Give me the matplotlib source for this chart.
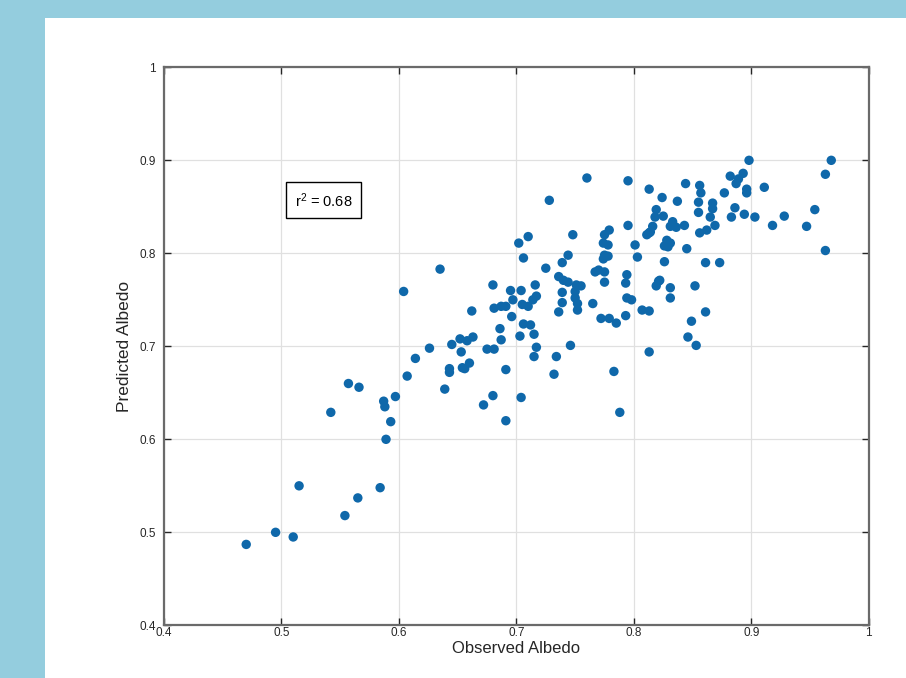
import numpy as np
import matplotlib.pyplot as plt
from matplotlib.patches import Rectangle

plt.rcParams["font.family"] = ["Liberation Sans", "DejaVu Sans"]

# Observed vs predicted albedo
observed = [
    0.470, 0.495, 0.510, 0.515, 0.554, 0.565, 0.584, 0.589, 0.593, 0.542,
    0.587, 0.588, 0.597, 0.557, 0.566, 0.607, 0.614, 0.626, 0.604, 0.635,
    0.639, 0.643, 0.643, 0.645, 0.652, 0.653, 0.658, 0.663, 0.654, 0.656,
    0.660, 0.662, 0.672, 0.680, 0.691, 0.704, 0.691, 0.675, 0.681, 0.687,
    0.686, 0.703, 0.715, 0.717, 0.715, 0.706, 0.712, 0.696, 0.681, 0.687,
    0.691, 0.680, 0.695, 0.704, 0.697, 0.705, 0.710, 0.714, 0.717, 0.716,
    0.725, 0.706, 0.702, 0.710, 0.728, 0.739, 0.748, 0.760, 0.744, 0.736,
    0.740, 0.744, 0.751, 0.755, 0.739, 0.750, 0.739, 0.750, 0.752, 0.752,
    0.736, 0.765, 0.767, 0.770, 0.775, 0.775, 0.779, 0.775, 0.774, 0.778,
    0.775, 0.778, 0.774, 0.795, 0.801, 0.803, 0.794, 0.793, 0.794, 0.798,
    0.807, 0.813, 0.772, 0.779, 0.785, 0.793, 0.746, 0.813, 0.734, 0.732,
    0.783, 0.788, 0.795, 0.813, 0.824, 0.816, 0.813, 0.811, 0.814, 0.819,
    0.818, 0.825, 0.828, 0.829, 0.826, 0.831, 0.833, 0.831, 0.836, 0.843,
    0.845, 0.826, 0.821, 0.822, 0.819, 0.831, 0.831, 0.852, 0.861, 0.873,
    0.861, 0.849, 0.846, 0.853, 0.837, 0.844, 0.856, 0.857, 0.855, 0.855,
    0.867, 0.867, 0.865, 0.869, 0.862, 0.856, 0.877, 0.882, 0.893, 0.889,
    0.887, 0.896, 0.896, 0.898, 0.911, 0.886, 0.883, 0.894, 0.903, 0.918,
    0.928, 0.947, 0.954, 0.963, 0.963, 0.968,
]
predicted = [
    0.487, 0.500, 0.495, 0.550, 0.518, 0.537, 0.548, 0.600, 0.619, 0.629,
    0.641, 0.635, 0.646, 0.660, 0.656, 0.668, 0.687, 0.698, 0.759, 0.783,
    0.654, 0.676, 0.672, 0.702, 0.708, 0.694, 0.706, 0.710, 0.677, 0.676,
    0.682, 0.738, 0.637, 0.647, 0.620, 0.645, 0.675, 0.697, 0.697, 0.707,
    0.719, 0.711, 0.713, 0.699, 0.689, 0.724, 0.723, 0.732, 0.741, 0.743,
    0.743, 0.766, 0.760, 0.760, 0.750, 0.745, 0.743, 0.750, 0.754, 0.766,
    0.784, 0.795, 0.811, 0.818, 0.857, 0.790, 0.820, 0.881, 0.798, 0.775,
    0.771, 0.769, 0.766, 0.765, 0.758, 0.759, 0.747, 0.752, 0.746, 0.739,
    0.737, 0.746, 0.780, 0.782, 0.780, 0.769, 0.825, 0.820, 0.811, 0.809,
    0.798, 0.797, 0.794, 0.830, 0.809, 0.796, 0.777, 0.768, 0.752, 0.750,
    0.739, 0.738, 0.730, 0.730, 0.725, 0.733, 0.701, 0.694, 0.689, 0.670,
    0.673, 0.629, 0.878, 0.869, 0.860, 0.829, 0.822, 0.820, 0.823, 0.847,
    0.839, 0.840, 0.814, 0.807, 0.808, 0.811, 0.834, 0.829, 0.828, 0.830,
    0.805, 0.791, 0.770, 0.771, 0.765, 0.763, 0.752, 0.765, 0.790, 0.790,
    0.737, 0.727, 0.710, 0.701, 0.856, 0.875, 0.873, 0.865, 0.855, 0.844,
    0.854, 0.848, 0.839, 0.830, 0.825, 0.822, 0.865, 0.883, 0.886, 0.880,
    0.875, 0.869, 0.865, 0.900, 0.871, 0.849, 0.839, 0.842, 0.839, 0.830,
    0.840, 0.829, 0.847, 0.803, 0.885, 0.900,
]
r2 = 0.68

fig = plt.figure(figsize=(9.06, 6.78), dpi=100)
fig.patch.set_facecolor("#94CDDE")
# white panel behind the axes
fig.patches.append(Rectangle((45 / 906, 0), 1 - 45 / 906, 660 / 678,
                             transform=fig.transFigure, facecolor="white",
                             edgecolor="none", zorder=-5))

ax = fig.add_axes([0.181, 0.0777, 0.778, 0.823])
ax.set_zorder(2)
ax.set_facecolor("white")
ax.scatter(observed, predicted, s=46, color="#0F68AA", edgecolors="none", zorder=3)

ax.set_xlim(0.4, 1.0)
ax.set_ylim(0.4, 1.0)
ticks = [0.4, 0.5, 0.6, 0.7, 0.8, 0.9, 1.0]
labels = ["0.4", "0.5", "0.6", "0.7", "0.8", "0.9", "1"]
ax.set_xticks(ticks, labels)
ax.set_yticks(ticks, labels)
ax.tick_params(direction="in", top=True, right=True, length=5, width=1,
               labelsize=8.5, colors="#262626")
ax.tick_params(axis="y", pad=6)
ax.tick_params(axis="x", pad=1.5)
ax.grid(True, color="#E0E0E0", linewidth=0.9)
ax.set_axisbelow(True)
for s in ax.spines.values():
    s.set_color("#6A6A6A")
    s.set_linewidth(1.6)

ax.set_xlabel("Observed Albedo", fontsize=12, color="#262626", labelpad=1)
ax.set_ylabel("Predicted Albedo", fontsize=12.5, color="#262626", labelpad=5)

ax.text(0.5115, 0.857, r"$\mathregular{r^2}$ = 0.68", fontsize=10.5, va="center",
        ha="left", color="black", zorder=4,
        bbox=dict(boxstyle="square,pad=0.6", facecolor="white",
                  edgecolor="black", linewidth=1))

plt.savefig("out.png", dpi=100, facecolor=fig.get_facecolor())
